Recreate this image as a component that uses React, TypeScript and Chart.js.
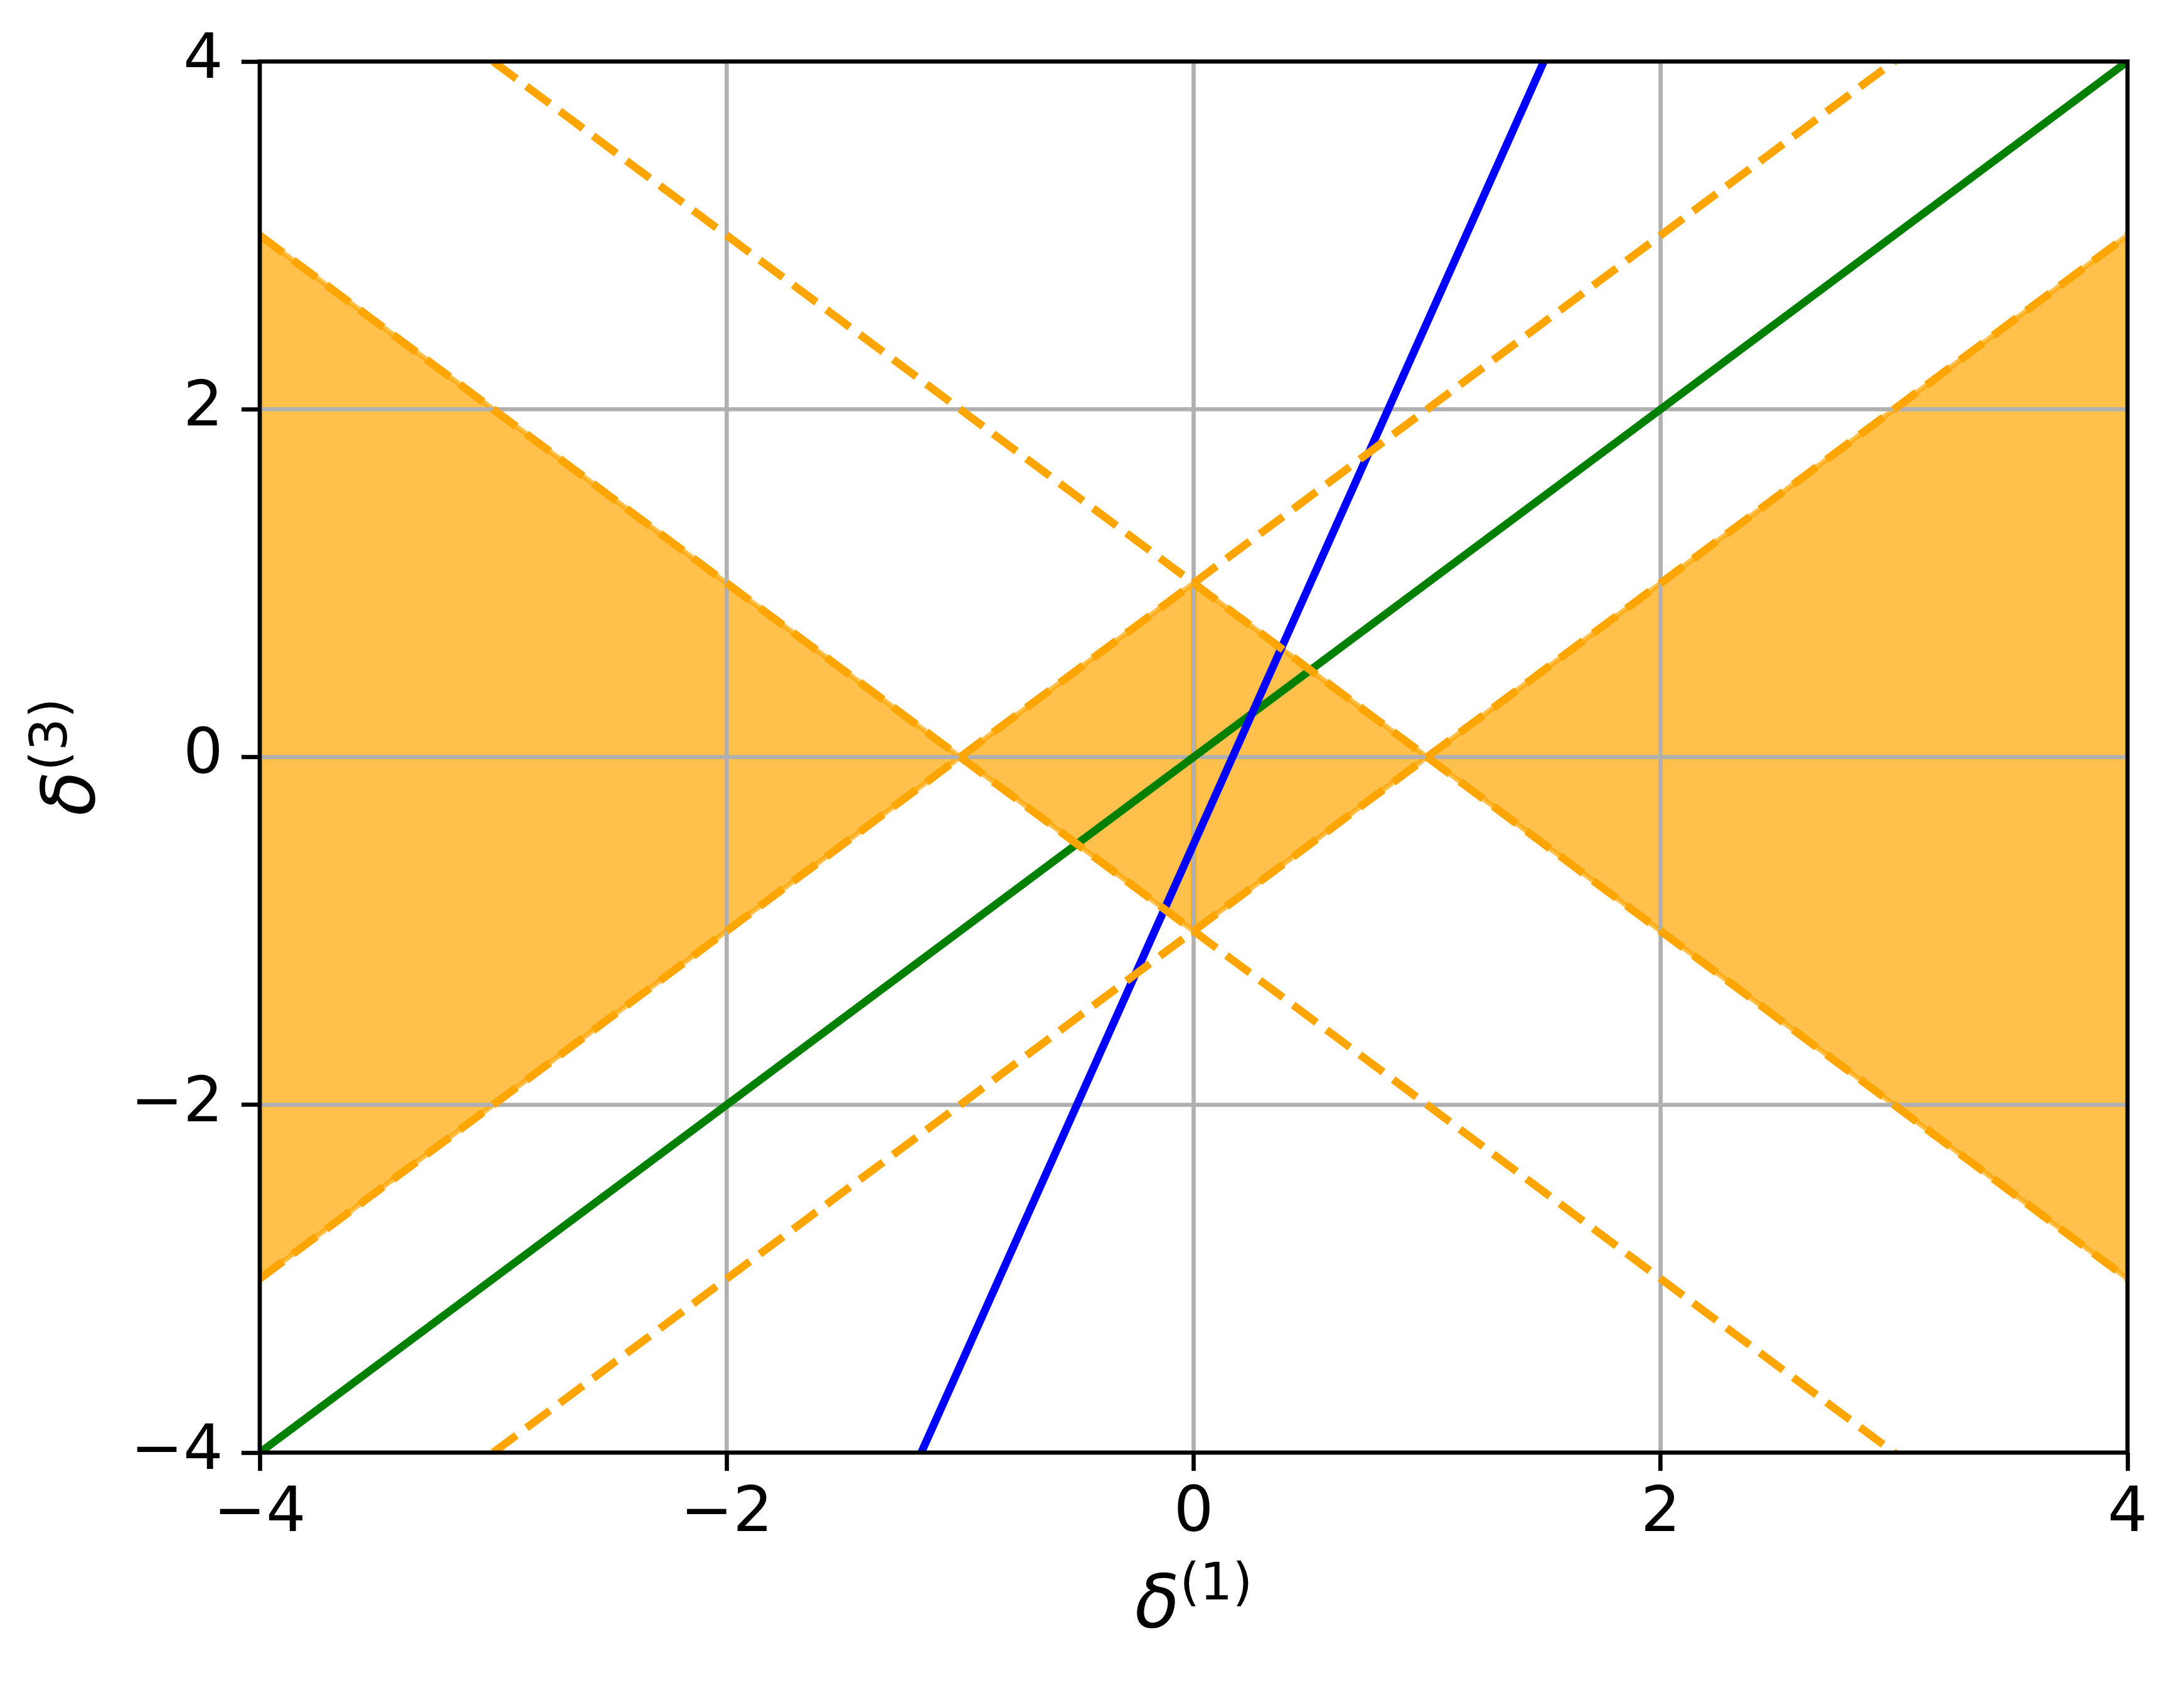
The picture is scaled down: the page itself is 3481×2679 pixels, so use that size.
import React, { useEffect, useRef } from "react";
import { Chart, registerables } from "chart.js";

Chart.register(...registerables);

// ---- data ----
const AXIS_MIN = -4;
const AXIS_MAX = 4;
const TICK_VALUES = [-4, -2, 0, 2, 4];
const X_LABEL_BASE = "δ";
const X_LABEL_SUP = "(1)";
const Y_LABEL_BASE = "δ";
const Y_LABEL_SUP = "(3)";

const lineX = [-4, 4];
const greenY = [-4, 4]; // δ3 = δ1
const blueY = [-12.5, 11.5]; // δ3 = 3δ1 − 0.5
const dashPlusOneY = [-3, 5]; // δ3 = δ1 + 1
const dashMinusOneY = [-5, 3]; // δ3 = δ1 − 1
const dashNegPlusOneY = [5, -3]; // δ3 = −δ1 + 1
const dashNegMinusOneY = [3, -5]; // δ3 = −δ1 − 1

const leftRegionX = [-4, -1, 0, 0, -1, -4, -4];
const leftRegionY = [3, 0, 1, -1, 0, -3, 3];
const rightRegionX = [0, 1, 4, 4, 1, 0, 0];
const rightRegionY = [1, 0, 3, -3, 0, -1, 1];

// ---- style ----
const W = 3481;
const H = 2679;
const PT = 600 / 72;
const ORANGE = "#ffa500";
const FILL = "rgba(255,165,0,0.7)";
const FONT = '"DejaVu Sans", "Liberation Sans", sans-serif';

const pts = (xs: number[], ys: number[]) => xs.map((x, i) => ({ x, y: ys[i] }));

const GRID_AFTER_INDEX = 6;

const gridPlugin = {
  id: "gridBetween",
  afterDatasetDraw(chart: any, args: any) {
    if (args.index !== GRID_AFTER_INDEX) return;
    const { ctx, chartArea: a, scales } = chart;
    ctx.save();
    ctx.beginPath();
    ctx.rect(a.left, a.top, a.right - a.left, a.bottom - a.top);
    ctx.clip();
    ctx.strokeStyle = "#b0b0b0";
    ctx.lineWidth = 0.8 * PT;
    for (const v of TICK_VALUES) {
      const px = scales.x.getPixelForValue(v);
      ctx.beginPath();
      ctx.moveTo(px, a.top);
      ctx.lineTo(px, a.bottom);
      ctx.stroke();
      const py = scales.y.getPixelForValue(v);
      ctx.beginPath();
      ctx.moveTo(a.left, py);
      ctx.lineTo(a.right, py);
      ctx.stroke();
    }
    ctx.restore();
  },
};

const spinePlugin = {
  id: "spines",
  afterDatasetsDraw(chart: any) {
    const { ctx, chartArea: a } = chart;
    ctx.save();
    ctx.strokeStyle = "#000";
    ctx.lineWidth = 0.8 * PT;
    ctx.strokeRect(a.left, a.top, a.right - a.left, a.bottom - a.top);
    ctx.restore();
  },
};

const titlePlugin = {
  id: "mathTitles",
  afterDraw(chart: any) {
    const { ctx, chartArea: a } = chart;
    const mainFont = `italic 117px ${FONT}`;
    const supFont = `82px ${FONT}`;
    const drawMath = (base: string, sup: string, cx: number, by: number) => {
      ctx.font = mainFont;
      const w1 = ctx.measureText(base).width;
      ctx.font = supFont;
      const w2 = ctx.measureText(sup).width;
      const x0 = cx - (w1 + w2) / 2;
      ctx.font = mainFont;
      ctx.fillText(base, x0, by);
      ctx.font = supFont;
      ctx.fillText(sup, x0 + w1, by - 44);
    };
    ctx.save();
    ctx.fillStyle = "#000";
    ctx.textAlign = "left";
    ctx.textBaseline = "alphabetic";
    drawMath(X_LABEL_BASE, X_LABEL_SUP, (a.left + a.right) / 2, a.bottom + 278);
    ctx.translate(150, (a.top + a.bottom) / 2);
    ctx.rotate(-Math.PI / 2);
    drawMath(Y_LABEL_BASE, Y_LABEL_SUP, 0, 0);
    ctx.restore();
  },
};

const fmt = (v: any) => (Number(v) < 0 ? "\u2212" + Math.abs(Number(v)) : String(v));

export default function App() {
  const ref = useRef<HTMLCanvasElement | null>(null);

  useEffect(() => {
    if (!ref.current) return;
    const lw = 1.5 * PT;
    const dash = [5.55 * PT, 2.4 * PT];
    const lineDs = (ys: number[], color: string, dashed: boolean) => ({
      data: pts(lineX, ys),
      showLine: true,
      borderColor: color,
      backgroundColor: color,
      borderWidth: lw,
      borderDash: dashed ? dash : [],
      borderCapStyle: dashed ? "butt" : "projecting",
      pointRadius: 0,
      pointHoverRadius: 0,
      fill: false,
      clip: 0,
    });
    const polyDs = (xs: number[], ys: number[]) => ({
      data: pts(xs, ys),
      showLine: true,
      borderColor: FILL,
      backgroundColor: FILL,
      borderWidth: 1.0 * PT,
      pointRadius: 0,
      pointHoverRadius: 0,
      fill: "shape",
      clip: 0,
    });

    const datasets: any[] = [
      lineDs(dashPlusOneY, ORANGE, true), // 0
      lineDs(dashMinusOneY, ORANGE, true), // 1
      lineDs(dashNegPlusOneY, ORANGE, true), // 2
      lineDs(dashNegMinusOneY, ORANGE, true), // 3
      lineDs(blueY, "#0000ff", false), // 4
      lineDs(greenY, "#008000", false), // 5
      polyDs(leftRegionX, leftRegionY), // 6
      polyDs(rightRegionX, rightRegionY), // 7
    ];

    const tickFont = { family: FONT, size: 100, lineHeight: 0.82 };
    const scaleCommon = {
      type: "linear",
      min: AXIS_MIN,
      max: AXIS_MAX,
      grid: {
        display: true,
        drawOnChartArea: false,
        drawTicks: true,
        tickLength: 3.5 * PT,
        tickWidth: 0.8 * PT,
        tickColor: "#000",
      },
      border: { display: false },
      ticks: {
        stepSize: 2,
        autoSkip: false,
        maxRotation: 0,
        color: "#000",
        font: tickFont,
        padding: 3.5 * PT,
        callback: (v: any) => fmt(v),
      },
    };

    const chart = new Chart(ref.current, {
      type: "scatter",
      data: { datasets },
      options: {
        responsive: false,
        animation: false,
        devicePixelRatio: 1,
        layout: { padding: { left: 0, top: 98, right: 90, bottom: 0 } },
        plugins: {
          legend: { display: false },
          tooltip: { enabled: false },
          title: { display: false },
        },
        events: [],
        scales: {
          x: {
            ...scaleCommon,
            position: "bottom",
            afterFit: (s: any) => {
              s.height = 364;
            },
          },
          y: {
            ...scaleCommon,
            position: "left",
            afterFit: (s: any) => {
              s.width = 414;
            },
          },
        },
      } as any,
      plugins: [gridPlugin, spinePlugin, titlePlugin],
    } as any);

    return () => chart.destroy();
  }, []);

  return (
    <div style={{ position: "fixed", left: 0, top: 0, width: W, height: H, background: "#fff" }}>
      <canvas ref={ref} width={W} height={H} style={{ display: "block", width: W, height: H }} />
    </div>
  );
}
